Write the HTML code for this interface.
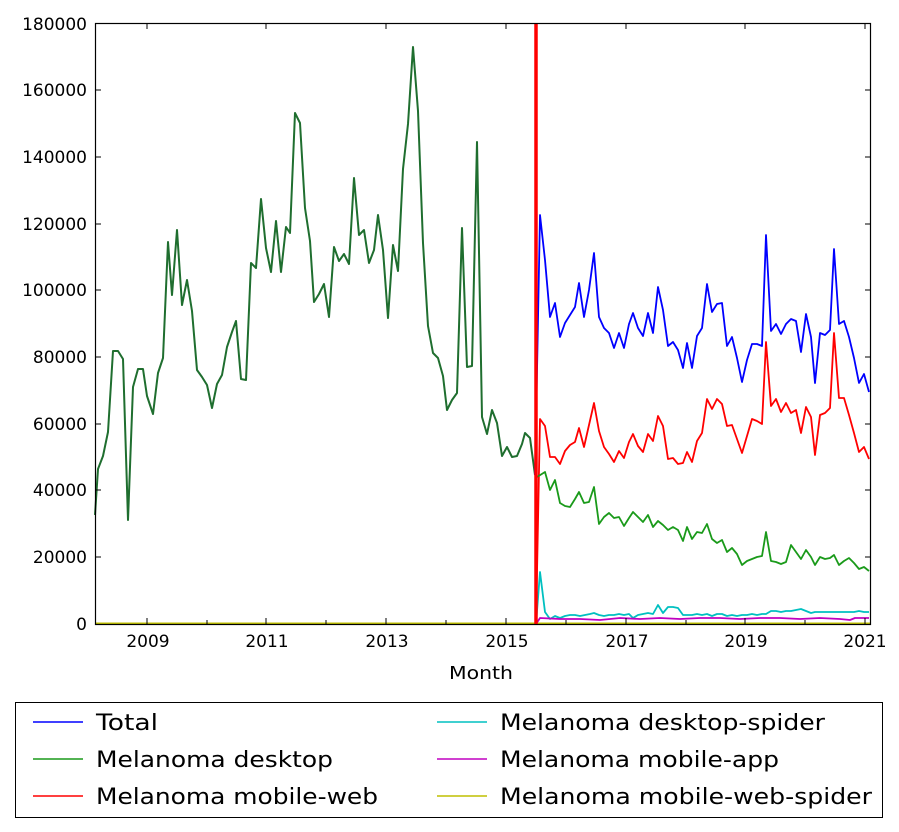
<!DOCTYPE html>
<html><head><style>
body{margin:0;background:#fff;width:899px;height:827px;overflow:hidden}
text{font-family:"DejaVu Sans","Liberation Sans",sans-serif;font-size:16px;fill:#000}
</style></head><body>
<svg width="899" height="827" viewBox="0 0 899 827" xmlns="http://www.w3.org/2000/svg">
<rect width="899" height="827" fill="#fff"/>
<g fill="none" stroke-width="1.8" stroke-linejoin="round">
<line x1="95" y1="623.5" x2="870" y2="623.5" stroke="#bfbf00" stroke-width="2"/>
<polyline stroke="#1f6e2f" stroke-width="2" points="95,515 98,469 103,456 108,432 113,351 118,351 123,359 128,520 133,387 138,369 143,369 147,396 153,414 158,373 163,358 168,242 172,295 177,230 182,305 187,280 192,311 197,370 202,377 207,385 212,408 217,384 222,375 227,347 232,332 236,321 241,379 246,380 251,263 256,268 261,199 266,248 271,272 276,221 281,272 286,227 290,233 295,113 300,123 305,208 310,241 314,302 319,294 324,284 329,317 334,247 339,261 344,254 349,264 354,178 359,235 364,230 369,263 374,250 378,215 383,250 388,318 393,245 398,271 403,169 408,124 413,47 418,111 423,243 428,326 433,353 438,358 443,376 447,410 452,400 457,393 462,228 467,367 472,366 477,142 482,417 487,434 492,410 497,423 502,456 507,447 512,457 517,456 522,444 525,433 530,438 535,475"/>
<polyline stroke="#0000ff" points="535,475 540,215 545,260 550,317 555,303 560,337 565,323 570,315 575,307 579,283 584,317 589,290 594,253 599,317 604,328 609,333 614,348 619,333 624,348 629,324 633,313 638,328 643,336 648,313 653,333 658,287 663,310 668,346 673,342 678,350 683,368 687,343 692,368 697,336 702,328 707,284 712,312 717,304 722,303 727,346 732,337 737,358 742,382 747,360 752,344 757,344 762,346 766,235 771,331 776,324 781,334 786,324 791,319 796,321 801,352 806,314 811,337 815,383 820,333 825,335 830,330 834,249 839,324 844,321 849,337 854,358 859,383 864,374 869,392"/>
<polyline stroke="#ff0000" points="536,624 540,419 545,426 550,457 555,457 560,464 565,451 570,445 575,442 579,428 584,447 589,425 594,403 599,431 604,447 609,454 614,462 619,451 624,458 629,442 633,434 638,446 643,452 648,434 653,441 658,416 663,426 668,459 673,458 678,464 683,463 687,452 692,462 697,441 702,433 707,399 712,409 717,399 722,404 727,426 732,425 737,439 742,453 747,436 752,419 757,421 762,424 766,342 771,406 776,399 781,412 786,403 791,413 796,410 801,433 806,407 811,417 815,455 820,415 825,413 830,408 834,333 839,398 844,398 849,415 854,433 859,452 864,447 869,459"/>
<polyline stroke="#1a9a1a" points="535,475 537,477 545,472 550,490 555,480 560,503 565,506 570,507 575,499 579,492 584,503 589,502 594,487 599,524 604,517 609,513 614,518 619,517 624,526 629,518 633,512 638,517 643,522 648,515 653,527 658,521 663,525 668,530 673,527 678,530 683,541 687,527 692,539 697,532 702,533 707,524 712,539 717,543 722,540 727,552 732,548 737,554 742,565 747,561 752,559 757,557 762,556 766,532 771,561 776,562 781,564 786,562 791,545 796,552 801,559 806,550 811,557 815,565 820,557 825,559 830,558 834,555 839,565 844,561 849,558 854,563 859,569 864,567 869,571"/>
<polyline stroke="#00c0c0" points="536,624 540,572 545,612 550,619 555,616 560,618 565,616 570,615 575,615 580,616 585,615 590,614 594,613 599,615 604,616 609,615 614,615 619,614 624,615 629,614 633,618 638,615 643,614 648,613 653,614 658,605 663,613 668,607 673,607 678,608 683,615 687,615 692,615 697,614 702,615 707,614 712,616 717,614 722,614 727,616 732,615 737,616 742,615 747,615 752,614 757,615 762,614 766,614 771,611 776,611 781,612 786,611 791,611 796,610 801,609 806,611 811,613 815,612 820,612 825,612 830,612 834,612 839,612 844,612 849,612 854,612 859,611 864,612 869,612"/>
<polyline stroke="#c000c0" points="536,624 540,618 560,619 580,619 600,620 620,618 640,619 660,618 680,619 700,618 720,618 740,619 760,618 780,618 800,619 820,618 840,619 850,620 855,618 869,618"/>
</g>
<line x1="536" y1="23" x2="536" y2="624" stroke="#ff0000" stroke-width="3.5"/>
<rect x="95.5" y="23.5" width="775" height="601" fill="none" stroke="#000" stroke-width="1.2"/>
<g stroke="#000" stroke-width="1">
<line x1="95" y1="90" x2="101" y2="90"/><line x1="95" y1="157" x2="101" y2="157"/><line x1="95" y1="224" x2="101" y2="224"/><line x1="95" y1="290" x2="101" y2="290"/><line x1="95" y1="357" x2="101" y2="357"/><line x1="95" y1="424" x2="101" y2="424"/><line x1="95" y1="490" x2="101" y2="490"/><line x1="95" y1="557" x2="101" y2="557"/>
<line x1="865" y1="90" x2="870" y2="90"/><line x1="865" y1="157" x2="870" y2="157"/><line x1="865" y1="224" x2="870" y2="224"/><line x1="865" y1="290" x2="870" y2="290"/><line x1="865" y1="357" x2="870" y2="357"/><line x1="865" y1="424" x2="870" y2="424"/><line x1="865" y1="490" x2="870" y2="490"/><line x1="865" y1="557" x2="870" y2="557"/>
<line x1="147" y1="624" x2="147" y2="618"/><line x1="207" y1="624" x2="207" y2="620"/><line x1="266" y1="624" x2="266" y2="618"/><line x1="326" y1="624" x2="326" y2="620"/><line x1="386" y1="624" x2="386" y2="618"/><line x1="446" y1="624" x2="446" y2="620"/><line x1="506" y1="624" x2="506" y2="618"/><line x1="566" y1="624" x2="566" y2="620"/><line x1="626" y1="624" x2="626" y2="618"/><line x1="686" y1="624" x2="686" y2="620"/><line x1="745" y1="624" x2="745" y2="618"/><line x1="805" y1="624" x2="805" y2="620"/><line x1="865" y1="624" x2="865" y2="618"/>
<line x1="147" y1="23" x2="147" y2="29"/><line x1="266" y1="23" x2="266" y2="29"/><line x1="386" y1="23" x2="386" y2="29"/><line x1="506" y1="23" x2="506" y2="29"/><line x1="626" y1="23" x2="626" y2="29"/><line x1="745" y1="23" x2="745" y2="29"/><line x1="865" y1="23" x2="865" y2="29"/>
</g>
<g text-anchor="end" style="font-size:17px">
<text x="87" y="30" style="font-size:17px">180000</text><text x="87" y="96" style="font-size:17px">160000</text><text x="87" y="163" style="font-size:17px">140000</text><text x="87" y="230" style="font-size:17px">120000</text><text x="87" y="296" style="font-size:17px">100000</text><text x="87" y="363" style="font-size:17px">80000</text><text x="87" y="430" style="font-size:17px">60000</text><text x="87" y="496" style="font-size:17px">40000</text><text x="87" y="563" style="font-size:17px">20000</text><text x="87" y="630" style="font-size:17px">0</text>
</g>
<g text-anchor="middle">
<text x="148" y="647" style="font-size:17px">2009</text><text x="267" y="647" style="font-size:17px">2011</text><text x="387" y="647" style="font-size:17px">2013</text><text x="507" y="647" style="font-size:17px">2015</text><text x="627" y="647" style="font-size:17px">2017</text><text x="746" y="647" style="font-size:17px">2019</text><text x="865" y="647" style="font-size:17px">2021</text>
</g>
<text x="449" y="679" style="font-size:18px" textLength="64" lengthAdjust="spacingAndGlyphs">Month</text>
<rect x="15.5" y="702.5" width="867" height="115" fill="#fff" stroke="#000" stroke-width="1"/>
<g stroke-width="1.6">
<line x1="33" y1="722" x2="83" y2="722" stroke="#0000ff"/>
<line x1="33" y1="759" x2="83" y2="759" stroke="#1a9a1a"/>
<line x1="33" y1="796" x2="83" y2="796" stroke="#ff0000"/>
<line x1="437" y1="722" x2="487" y2="722" stroke="#00c0c0"/>
<line x1="437" y1="759" x2="487" y2="759" stroke="#c000c0"/>
<line x1="437" y1="796" x2="487" y2="796" stroke="#bfbf00"/>
</g>
<g>
<text x="96" y="730" style="font-size:22px" textLength="62" lengthAdjust="spacingAndGlyphs">Total</text>
<text x="96" y="767" style="font-size:22px" textLength="237" lengthAdjust="spacingAndGlyphs">Melanoma desktop</text>
<text x="96" y="804" style="font-size:22px" textLength="282" lengthAdjust="spacingAndGlyphs">Melanoma mobile-web</text>
<text x="500" y="730" style="font-size:22px" textLength="325" lengthAdjust="spacingAndGlyphs">Melanoma desktop-spider</text>
<text x="500" y="767" style="font-size:22px" textLength="279" lengthAdjust="spacingAndGlyphs">Melanoma mobile-app</text>
<text x="500" y="804" style="font-size:22px" textLength="372" lengthAdjust="spacingAndGlyphs">Melanoma mobile-web-spider</text>
</g>
</svg>
</body></html>
